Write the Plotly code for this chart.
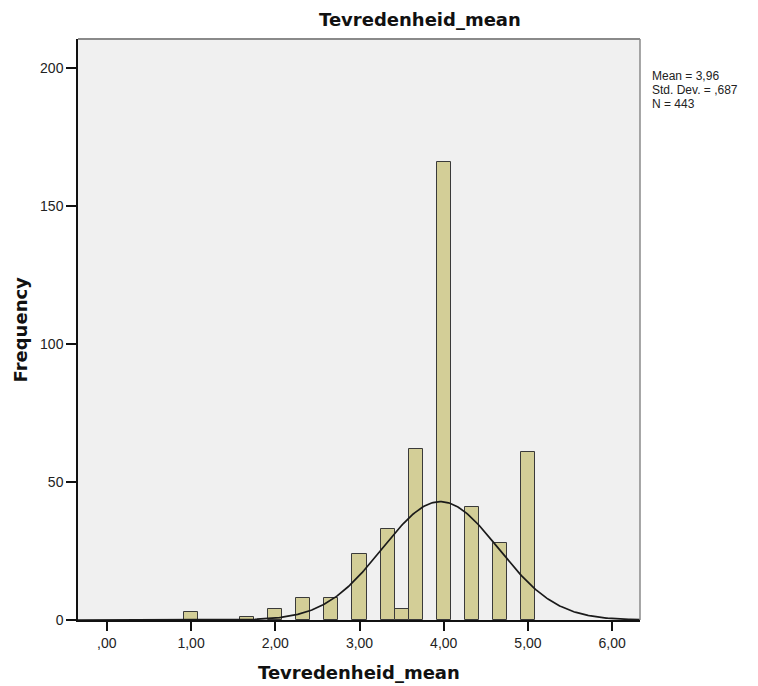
import numpy as np
import plotly.graph_objects as go

# ---- data ----
bin_centers = [1.0, 5/3, 2.0, 7/3, 8/3, 3.0, 10/3, 3.5, 11/3, 4.0, 13/3, 14/3, 5.0]
frequencies = [3, 1, 4, 8, 8, 24, 33, 4, 62, 166, 41, 28, 61]
bin_width = 1/6
mean_value = 3.96
std_dev = 0.687
n_total = 443
x_tick_values = [0, 1, 2, 3, 4, 5, 6]
x_tick_labels = [",00", "1,00", "2,00", "3,00", "4,00", "5,00", "6,00"]
y_tick_values = [0, 50, 100, 150, 200]
y_tick_labels = ["0", "50", "100", "150", "200"]
stats_lines = ["Mean = 3,96", "Std. Dev. = ,687", "N = 443"]
title_text = "Tevredenheid_mean"
x_title = "Tevredenheid_mean"
y_title = "Frequency"

x_range = [-0.342, 6.33]
y_range = [0, 210.5]

# fitted normal curve (from the displayed statistics)
curve_x = np.linspace(x_range[0], x_range[1], 400)
curve_y = n_total * bin_width * np.exp(-0.5 * ((curve_x - mean_value) / std_dev) ** 2) / (std_dev * np.sqrt(2 * np.pi))

fig = go.Figure()
fig.add_trace(go.Bar(
    x=bin_centers, y=frequencies, width=bin_width,
    marker=dict(color="#D3CE97", line=dict(color="#3a3a3a", width=1)),
    showlegend=False, hoverinfo="x+y",
))
fig.add_trace(go.Scatter(
    x=curve_x, y=curve_y, mode="lines",
    line=dict(color="#1a1a1a", width=1.7), showlegend=False, hoverinfo="skip",
))

tick_font = dict(family="Liberation Sans, Arial, sans-serif", size=14, color="#222222")
title_font = dict(family="DejaVu Sans, Arial, sans-serif", size=18, color="#111111", weight="bold")
stats_font = dict(family="Liberation Sans, Arial, sans-serif", size=12, color="#222222")

plot_left, plot_width = 78, 562

annotations = [
    dict(text=title_text, xref="paper", yref="paper", x=(317 - plot_left) / plot_width, y=1, yshift=20,
         xanchor="left", yanchor="middle", showarrow=False, font=title_font),
    dict(text=x_title, xref="paper", yref="paper", x=0.5, y=0, yshift=-52,
         xanchor="center", yanchor="middle", showarrow=False, font=title_font),
    dict(text=y_title, xref="paper", yref="paper", x=0, xshift=-58, y=0.5,
         xanchor="center", yanchor="middle", textangle=-90, showarrow=False, font=title_font),
]
for i, line in enumerate(stats_lines):
    annotations.append(dict(text=line, xref="paper", yref="paper", x=1, xshift=10, y=1, yshift=-(37 + 14 * i),
                            xanchor="left", yanchor="middle", align="left", showarrow=False, font=stats_font))

fig.update_layout(
    width=758, height=686,
    margin=dict(l=78, r=118, t=39, b=66),
    paper_bgcolor="white", plot_bgcolor="#F0F0F0",
    bargap=0,
    xaxis=dict(range=x_range, tickvals=x_tick_values, ticktext=x_tick_labels,
               showgrid=False, zeroline=False, showline=True, linecolor="#111111", linewidth=1.5,
               ticks="outside", ticklen=9, tickwidth=1.5, tickcolor="#111111",
               tickfont=tick_font, fixedrange=True),
    yaxis=dict(range=y_range, tickvals=y_tick_values, ticktext=y_tick_labels,
               showgrid=False, zeroline=False, showline=True, linecolor="#111111", linewidth=1.5,
               ticks="outside", ticklen=10, tickwidth=1.5, tickcolor="#111111",
               tickfont=tick_font, fixedrange=True),
    shapes=[
        dict(type="line", xref="paper", yref="paper", x0=0, x1=1, y0=1, y1=1,
             line=dict(color="#8a8a8a", width=2)),
        dict(type="line", xref="paper", yref="paper", x0=1, x1=1, y0=0, y1=1,
             line=dict(color="#8a8a8a", width=1.5)),
    ],
    annotations=annotations,
)

fig.write_html("out.html")
